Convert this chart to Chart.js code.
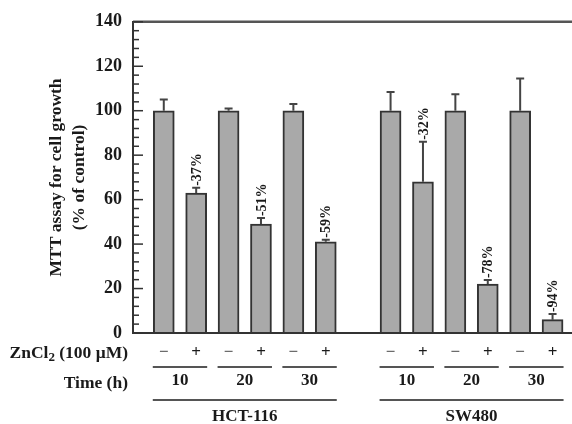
<!DOCTYPE html>
<html>
<head>
<meta charset="utf-8">
<script src="https://cdn.jsdelivr.net/npm/chart.js@4"></script>
<style>
  body { margin: 0; background: #fff; }
  canvas { display: block; }
</style>
</head>
<body>
<canvas id="mtt-chart" width="572" height="424"></canvas>
<script>
// Data
const cellLines = ["HCT-116", "SW480"];
const timePoints = ["10", "20", "30"];
const zincDoses = ["\u2212", "+"];
const growth = [100, 63, 100, 49, 100, 41, 100, 68, 100, 22, 100, 6];
const errorUp = [5, 2.3, 1, 2.7, 3, 1, 8.4, 18, 7.4, 1.8, 14.5, 2.5];
const changeLabels = ["", "-37%", "", "-51%", "", "-59%", "", "-32%", "", "-78%", "", "-94%"];

const serif = "'Liberation Serif', 'DejaVu Serif', serif";
const ink = "#1a1a1a";

// one slot per bar, one empty slot between the cell lines
const xs = [];
cellLines.forEach((line, g) => {
  timePoints.forEach((t, ti) => {
    zincDoses.forEach((z, zi) => xs.push(g * 7 + ti * 2 + zi + 1));
  });
});

const points = growth.map((v, i) => ({ x: xs[i], y: v }));

// error bars, labels, inner ticks and the table under the axis
const extras = {
  id: "extras",
  afterDatasetsDraw(chart) {
    const { ctx, chartArea, scales } = chart;
    const x = scales.x, y = scales.y;
    ctx.save();

    // top and bottom frame lines
    ctx.strokeStyle = "#555";
    ctx.lineWidth = 2.5;
    ctx.beginPath();
    ctx.moveTo(chartArea.left, chartArea.top);
    ctx.lineTo(chartArea.right, chartArea.top);
    ctx.stroke();
    ctx.strokeStyle = "#333";
    ctx.lineWidth = 2;
    ctx.beginPath();
    ctx.moveTo(chartArea.left, chartArea.bottom);
    ctx.lineTo(chartArea.right, chartArea.bottom);
    ctx.stroke();

    // inward ticks on the y axis
    ctx.strokeStyle = "#333";
    ctx.lineWidth = 1.5;
    for (let v = 0; v <= 140; v += 4) {
      const py = y.getPixelForValue(v);
      const len = v % 20 === 0 ? 10 : 6;
      ctx.beginPath();
      ctx.moveTo(chartArea.left, py);
      ctx.lineTo(chartArea.left + len, py);
      ctx.stroke();
    }

    // error bars (upper only) and % change labels
    growth.forEach((v, i) => {
      const px = x.getPixelForValue(xs[i]);
      const top = y.getPixelForValue(v);
      const end = y.getPixelForValue(v + errorUp[i]);
      ctx.strokeStyle = "#444";
      ctx.lineWidth = 2;
      ctx.beginPath();
      ctx.moveTo(px, top);
      ctx.lineTo(px, end);
      ctx.moveTo(px - 4, end);
      ctx.lineTo(px + 4, end);
      ctx.stroke();

      if (changeLabels[i]) {
        ctx.save();
        ctx.translate(px, end - 2);
        ctx.rotate(-Math.PI / 2);
        ctx.fillStyle = ink;
        ctx.font = "bold 14px " + serif;
        ctx.textAlign = "left";
        ctx.textBaseline = "middle";
        ctx.fillText(changeLabels[i], 0, 1);
        ctx.restore();
      }
    });

    // table under the x axis
    const rowSign = 353, rowPair = 367, rowTime = 381, rowGroup = 400, rowLine = 417;
    ctx.textAlign = "center";
    ctx.textBaseline = "middle";
    ctx.font = "bold 17px " + serif;
    xs.forEach((xv, i) => {
      const sign = zincDoses[i % 2];
      ctx.fillStyle = i % 2 === 0 ? "#666" : ink;
      ctx.fillText(sign, x.getPixelForValue(xv), rowSign);
    });

    ctx.strokeStyle = "#555";
    ctx.lineWidth = 2;
    cellLines.forEach((line, g) => {
      timePoints.forEach((t, ti) => {
        const a = x.getPixelForValue(xs[g * 6 + ti * 2]) - 11;
        const b = x.getPixelForValue(xs[g * 6 + ti * 2 + 1]) + 11;
        ctx.beginPath();
        ctx.moveTo(a, rowPair);
        ctx.lineTo(b, rowPair);
        ctx.stroke();
        ctx.fillStyle = ink;
        ctx.fillText(t, (a + b) / 2, rowTime);
      });
      const a = x.getPixelForValue(xs[g * 6]) - 11;
      const b = x.getPixelForValue(xs[g * 6 + 5]) + 11;
      ctx.beginPath();
      ctx.moveTo(a, rowGroup);
      ctx.lineTo(b, rowGroup);
      ctx.stroke();
      ctx.fillText(line, (a + b) / 2, rowLine);
    });

    // row headers, right aligned to the axis
    const right = 128;
    ctx.textAlign = "left";
    ctx.fillStyle = ink;
    const big = "bold 17.5px " + serif, small = "bold 13px " + serif;
    ctx.font = big;
    const w1 = ctx.measureText("ZnCl").width;
    const w3 = ctx.measureText(" (100 \u03bcM)").width;
    ctx.font = small;
    const w2 = ctx.measureText("2").width;
    let sx = right - (w1 + w2 + w3);
    ctx.font = big;
    ctx.fillText("ZnCl", sx, rowSign);
    ctx.font = small;
    ctx.fillText("2", sx + w1, rowSign + 5);
    ctx.font = big;
    ctx.fillText(" (100 \u03bcM)", sx + w1 + w2, rowSign);
    ctx.textAlign = "right";
    ctx.fillText("Time (h)", right, rowTime + 2);

    ctx.restore();
  }
};

const ctx = document.getElementById("mtt-chart").getContext("2d");
const mttChart = new Chart(ctx, {
  type: "bar",
  data: {
    datasets: [{
      data: points,
      backgroundColor: "#a9a9a9",
      borderColor: "#333",
      borderWidth: 2,
      barThickness: 21,
    }]
  },
  options: {
    responsive: false,
    animation: false,
    layout: { padding: { left: 0, top: 18, right: 0, bottom: 91 } },
    plugins: { legend: { display: false }, tooltip: { enabled: false } },
    scales: {
      x: { type: "linear", min: 0.05, max: 13.6, offset: false, display: false },
      y: {
        min: 0,
        max: 140,
        ticks: { stepSize: 20, padding: 11, color: ink, font: { family: serif, size: 18, weight: "bold" } },
        grid: { display: false, drawTicks: false },
        border: { display: true, color: "#333", width: 2 },
        title: {
          display: true,
          text: ["MTT assay for cell growth", "(% of control)"],
          color: ink,
          font: { family: serif, size: 17.5, weight: "bold", lineHeight: 1.37 },
          padding: { top: 44, bottom: 0 },
        },
        afterFit(scale) { scale.width = 133; },
      }
    }
  },
  plugins: [extras]
});
</script>
</body>
</html>
